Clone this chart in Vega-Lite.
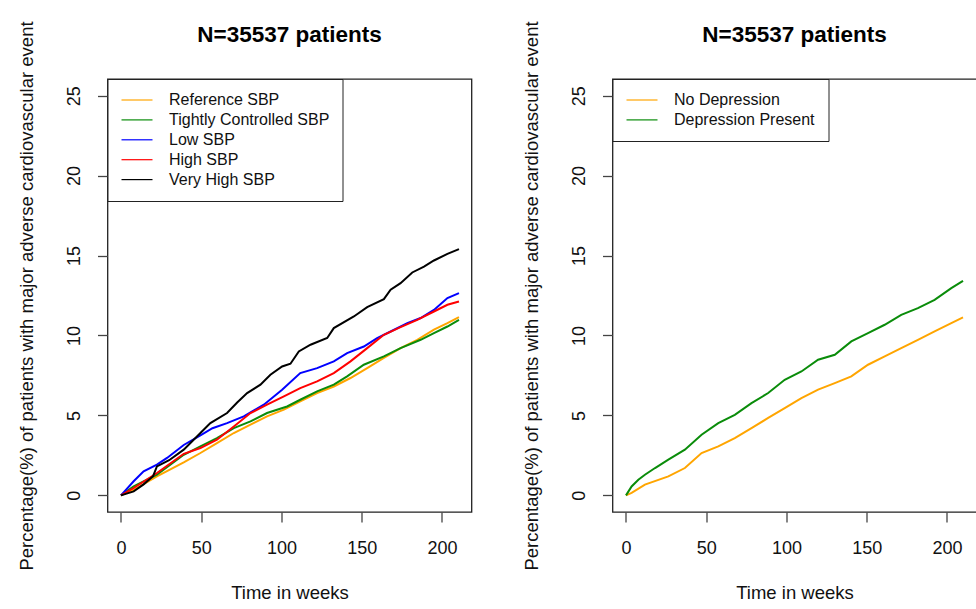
{
  "$schema": "https://vega.github.io/schema/vega-lite/v6.json",
  "background": "white",
  "padding": {"left": 16.5, "top": 20, "right": 0, "bottom": 0},
  "bounds": "flush",
  "spacing": 141,
  "config": {
    "font": "Liberation Sans",
    "view": {"stroke": "#222", "strokeWidth": 1.3},
    "axis": {"grid": false, "domain": false, "tickColor": "#444", "tickSize": 10, "tickWidth": 1.3, "labelFont": "Liberation Sans", "labelFontSize": 18, "labelColor": "#111", "titleFont": "Liberation Sans", "titleFontSize": 18.5, "titleFontWeight": "normal", "titleColor": "#111"},
    "axisX": {"labelPadding": 17, "titlePadding": 26, "labelAngle": 0},
    "title": {"fontSize": 22.5, "font": "Liberation Sans", "fontWeight": "bold", "baseline": "alphabetic", "offset": -26, "anchor": "middle", "frame": "group", "color": "#000"},
    "legend": {"title": null, "padding": 13, "strokeColor": "#222", "fillColor": "white", "offset": 0, "labelFontSize": 16, "labelFont": "Liberation Sans", "labelColor": "#111", "labelLimit": 400, "symbolType": "M-3.1,0H3.1", "symbolSize": 100, "symbolStrokeWidth": 1.2, "symbolOffset": 8.5, "labelOffset": 24, "rowPadding": 3.9, "cornerRadius": 0}
  },
  "resolve": {"scale": {"color": "independent"}},
  "datasets": {
    "sbp": [
      {"group": "Reference SBP", "week": 0, "pct": 0},
      {"group": "Reference SBP", "week": 7.9, "pct": 0.35},
      {"group": "Reference SBP", "week": 22.4, "pct": 1.19},
      {"group": "Reference SBP", "week": 39.1, "pct": 2.06},
      {"group": "Reference SBP", "week": 49.5, "pct": 2.65},
      {"group": "Reference SBP", "week": 59.8, "pct": 3.27},
      {"group": "Reference SBP", "week": 70.3, "pct": 3.9},
      {"group": "Reference SBP", "week": 80.7, "pct": 4.42},
      {"group": "Reference SBP", "week": 91, "pct": 4.94},
      {"group": "Reference SBP", "week": 101.5, "pct": 5.36},
      {"group": "Reference SBP", "week": 111.7, "pct": 5.88},
      {"group": "Reference SBP", "week": 122.2, "pct": 6.4},
      {"group": "Reference SBP", "week": 132.6, "pct": 6.81},
      {"group": "Reference SBP", "week": 143, "pct": 7.34},
      {"group": "Reference SBP", "week": 153.4, "pct": 7.96},
      {"group": "Reference SBP", "week": 163.8, "pct": 8.6},
      {"group": "Reference SBP", "week": 174.2, "pct": 9.21},
      {"group": "Reference SBP", "week": 184.6, "pct": 9.73},
      {"group": "Reference SBP", "week": 195, "pct": 10.36},
      {"group": "Reference SBP", "week": 203.4, "pct": 10.77},
      {"group": "Reference SBP", "week": 210.6, "pct": 11.15},
      {"group": "Tightly Controlled SBP", "week": 0, "pct": 0},
      {"group": "Tightly Controlled SBP", "week": 7.9, "pct": 0.56},
      {"group": "Tightly Controlled SBP", "week": 22.4, "pct": 1.29},
      {"group": "Tightly Controlled SBP", "week": 39.1, "pct": 2.54},
      {"group": "Tightly Controlled SBP", "week": 49.5, "pct": 3.06},
      {"group": "Tightly Controlled SBP", "week": 59.8, "pct": 3.58},
      {"group": "Tightly Controlled SBP", "week": 70.3, "pct": 4.21},
      {"group": "Tightly Controlled SBP", "week": 80.7, "pct": 4.63},
      {"group": "Tightly Controlled SBP", "week": 91, "pct": 5.15},
      {"group": "Tightly Controlled SBP", "week": 103.5, "pct": 5.56},
      {"group": "Tightly Controlled SBP", "week": 111.7, "pct": 5.98},
      {"group": "Tightly Controlled SBP", "week": 122.2, "pct": 6.5},
      {"group": "Tightly Controlled SBP", "week": 132.6, "pct": 6.92},
      {"group": "Tightly Controlled SBP", "week": 140.9, "pct": 7.44},
      {"group": "Tightly Controlled SBP", "week": 151.3, "pct": 8.17},
      {"group": "Tightly Controlled SBP", "week": 163.8, "pct": 8.69},
      {"group": "Tightly Controlled SBP", "week": 174.2, "pct": 9.21},
      {"group": "Tightly Controlled SBP", "week": 186.7, "pct": 9.73},
      {"group": "Tightly Controlled SBP", "week": 195, "pct": 10.15},
      {"group": "Tightly Controlled SBP", "week": 203.4, "pct": 10.56},
      {"group": "Tightly Controlled SBP", "week": 210.6, "pct": 10.98},
      {"group": "Low SBP", "week": 0, "pct": 0},
      {"group": "Low SBP", "week": 7.9, "pct": 0.88},
      {"group": "Low SBP", "week": 14.1, "pct": 1.5},
      {"group": "Low SBP", "week": 22.4, "pct": 1.92},
      {"group": "Low SBP", "week": 28.7, "pct": 2.34},
      {"group": "Low SBP", "week": 39.1, "pct": 3.15},
      {"group": "Low SBP", "week": 49.5, "pct": 3.75},
      {"group": "Low SBP", "week": 57, "pct": 4.2},
      {"group": "Low SBP", "week": 66.1, "pct": 4.52},
      {"group": "Low SBP", "week": 76.5, "pct": 4.94},
      {"group": "Low SBP", "week": 89, "pct": 5.67},
      {"group": "Low SBP", "week": 100.4, "pct": 6.6},
      {"group": "Low SBP", "week": 111.7, "pct": 7.65},
      {"group": "Low SBP", "week": 122.2, "pct": 7.96},
      {"group": "Low SBP", "week": 132.6, "pct": 8.38},
      {"group": "Low SBP", "week": 140.9, "pct": 8.9},
      {"group": "Low SBP", "week": 151.3, "pct": 9.31},
      {"group": "Low SBP", "week": 159.6, "pct": 9.84},
      {"group": "Low SBP", "week": 168, "pct": 10.25},
      {"group": "Low SBP", "week": 178.4, "pct": 10.77},
      {"group": "Low SBP", "week": 186.7, "pct": 11.09},
      {"group": "Low SBP", "week": 195, "pct": 11.6},
      {"group": "Low SBP", "week": 203.4, "pct": 12.34},
      {"group": "Low SBP", "week": 210.6, "pct": 12.65},
      {"group": "High SBP", "week": 0, "pct": 0},
      {"group": "High SBP", "week": 7.9, "pct": 0.46},
      {"group": "High SBP", "week": 22.4, "pct": 1.4},
      {"group": "High SBP", "week": 39.1, "pct": 2.6},
      {"group": "High SBP", "week": 49.5, "pct": 2.96},
      {"group": "High SBP", "week": 59.8, "pct": 3.48},
      {"group": "High SBP", "week": 70.3, "pct": 4.31},
      {"group": "High SBP", "week": 80.7, "pct": 5.15},
      {"group": "High SBP", "week": 91, "pct": 5.67},
      {"group": "High SBP", "week": 101.5, "pct": 6.19},
      {"group": "High SBP", "week": 111.7, "pct": 6.71},
      {"group": "High SBP", "week": 122.2, "pct": 7.13},
      {"group": "High SBP", "week": 132.6, "pct": 7.65},
      {"group": "High SBP", "week": 143, "pct": 8.38},
      {"group": "High SBP", "week": 153.4, "pct": 9.21},
      {"group": "High SBP", "week": 163.8, "pct": 10.04},
      {"group": "High SBP", "week": 174.2, "pct": 10.52},
      {"group": "High SBP", "week": 184.6, "pct": 10.98},
      {"group": "High SBP", "week": 195, "pct": 11.5},
      {"group": "High SBP", "week": 203.4, "pct": 11.92},
      {"group": "High SBP", "week": 210.6, "pct": 12.13},
      {"group": "Very High SBP", "week": 0, "pct": 0},
      {"group": "Very High SBP", "week": 7.9, "pct": 0.25},
      {"group": "Very High SBP", "week": 14.1, "pct": 0.69},
      {"group": "Very High SBP", "week": 20, "pct": 1.2},
      {"group": "Very High SBP", "week": 22.4, "pct": 1.81},
      {"group": "Very High SBP", "week": 30, "pct": 2.2},
      {"group": "Very High SBP", "week": 39.1, "pct": 2.86},
      {"group": "Very High SBP", "week": 49.5, "pct": 3.9},
      {"group": "Very High SBP", "week": 55.7, "pct": 4.52},
      {"group": "Very High SBP", "week": 66.1, "pct": 5.15},
      {"group": "Very High SBP", "week": 72.4, "pct": 5.81},
      {"group": "Very High SBP", "week": 78.6, "pct": 6.4},
      {"group": "Very High SBP", "week": 86.9, "pct": 6.92},
      {"group": "Very High SBP", "week": 93.1, "pct": 7.54},
      {"group": "Very High SBP", "week": 100.4, "pct": 8.06},
      {"group": "Very High SBP", "week": 105.6, "pct": 8.23},
      {"group": "Very High SBP", "week": 110.8, "pct": 9.0},
      {"group": "Very High SBP", "week": 118.1, "pct": 9.42},
      {"group": "Very High SBP", "week": 128.5, "pct": 9.84},
      {"group": "Very High SBP", "week": 132.6, "pct": 10.46},
      {"group": "Very High SBP", "week": 145.1, "pct": 11.19},
      {"group": "Very High SBP", "week": 153.4, "pct": 11.77},
      {"group": "Very High SBP", "week": 163.8, "pct": 12.27},
      {"group": "Very High SBP", "week": 168, "pct": 12.86},
      {"group": "Very High SBP", "week": 174.2, "pct": 13.27},
      {"group": "Very High SBP", "week": 181.5, "pct": 13.94},
      {"group": "Very High SBP", "week": 188.8, "pct": 14.31},
      {"group": "Very High SBP", "week": 195, "pct": 14.69},
      {"group": "Very High SBP", "week": 203.4, "pct": 15.1},
      {"group": "Very High SBP", "week": 210.6, "pct": 15.4}
    ],
    "dep": [
      {"group": "No Depression", "week": 0, "pct": 0},
      {"group": "No Depression", "week": 3.5, "pct": 0.15},
      {"group": "No Depression", "week": 11.8, "pct": 0.67},
      {"group": "No Depression", "week": 26.4, "pct": 1.19},
      {"group": "No Depression", "week": 36.7, "pct": 1.71},
      {"group": "No Depression", "week": 47.1, "pct": 2.65},
      {"group": "No Depression", "week": 57.5, "pct": 3.06},
      {"group": "No Depression", "week": 67.8, "pct": 3.58},
      {"group": "No Depression", "week": 78.2, "pct": 4.21},
      {"group": "No Depression", "week": 88.6, "pct": 4.84},
      {"group": "No Depression", "week": 98.9, "pct": 5.46},
      {"group": "No Depression", "week": 109.3, "pct": 6.08},
      {"group": "No Depression", "week": 119.7, "pct": 6.61},
      {"group": "No Depression", "week": 130.1, "pct": 7.02},
      {"group": "No Depression", "week": 140.4, "pct": 7.44},
      {"group": "No Depression", "week": 150.8, "pct": 8.17},
      {"group": "No Depression", "week": 161.2, "pct": 8.69},
      {"group": "No Depression", "week": 171.5, "pct": 9.21},
      {"group": "No Depression", "week": 181.9, "pct": 9.73},
      {"group": "No Depression", "week": 192.3, "pct": 10.25},
      {"group": "No Depression", "week": 202.7, "pct": 10.77},
      {"group": "No Depression", "week": 210, "pct": 11.13},
      {"group": "Depression Present", "week": 0, "pct": 0},
      {"group": "Depression Present", "week": 3.5, "pct": 0.56},
      {"group": "Depression Present", "week": 7.7, "pct": 0.98},
      {"group": "Depression Present", "week": 11.8, "pct": 1.29},
      {"group": "Depression Present", "week": 18.1, "pct": 1.71},
      {"group": "Depression Present", "week": 26.4, "pct": 2.23},
      {"group": "Depression Present", "week": 36.7, "pct": 2.86},
      {"group": "Depression Present", "week": 47.1, "pct": 3.79},
      {"group": "Depression Present", "week": 57.5, "pct": 4.52},
      {"group": "Depression Present", "week": 67.8, "pct": 5.04},
      {"group": "Depression Present", "week": 78.2, "pct": 5.77},
      {"group": "Depression Present", "week": 88.6, "pct": 6.4},
      {"group": "Depression Present", "week": 98.9, "pct": 7.23},
      {"group": "Depression Present", "week": 109.3, "pct": 7.75},
      {"group": "Depression Present", "week": 119.7, "pct": 8.48},
      {"group": "Depression Present", "week": 130.1, "pct": 8.79},
      {"group": "Depression Present", "week": 140.4, "pct": 9.63},
      {"group": "Depression Present", "week": 150.8, "pct": 10.15},
      {"group": "Depression Present", "week": 161.2, "pct": 10.67},
      {"group": "Depression Present", "week": 171.5, "pct": 11.29},
      {"group": "Depression Present", "week": 181.9, "pct": 11.71},
      {"group": "Depression Present", "week": 192.3, "pct": 12.23},
      {"group": "Depression Present", "week": 202.7, "pct": 12.96},
      {"group": "Depression Present", "week": 210, "pct": 13.42}
    ]
  },
  "hconcat": [
    {
      "title": "N=35537 patients",
      "width": 364,
      "height": 433,
      "data": {"name": "sbp"},
      "mark": {"type": "line", "strokeWidth": 2},
      "encoding": {
        "x": {"field": "week", "type": "quantitative", "scale": {"domain": [-8.4, 218.4], "nice": false, "zero": false}, "axis": {"values": [0, 50, 100, 150, 200], "title": "Time in weeks"}},
        "y": {"field": "pct", "type": "quantitative", "scale": {"domain": [-1.04, 26.04], "nice": false, "zero": false}, "axis": {"values": [0, 5, 10, 15, 20, 25], "title": "Percentage(%) of patients with major adverse cardiovascular event", "labelAngle": 270, "labelAlign": "center", "labelBaseline": "top", "labelPadding": 32, "titlePadding": 29}},
        "color": {"field": "group", "type": "nominal", "sort": ["Reference SBP", "Tightly Controlled SBP", "Low SBP", "High SBP", "Very High SBP"], "scale": {"domain": ["Reference SBP", "Tightly Controlled SBP", "Low SBP", "High SBP", "Very High SBP"], "range": ["#FFA500", "#0A8C0A", "#0000FF", "#FF0000", "#000000"]}, "legend": {"orient": "top-left"}}
      }
    },
    {
      "title": "N=35537 patients",
      "width": 364,
      "height": 433,
      "data": {"name": "dep"},
      "mark": {"type": "line", "strokeWidth": 2},
      "encoding": {
        "x": {"field": "week", "type": "quantitative", "scale": {"domain": [-8.4, 218.4], "nice": false, "zero": false}, "axis": {"values": [0, 50, 100, 150, 200], "title": "Time in weeks"}},
        "y": {"field": "pct", "type": "quantitative", "scale": {"domain": [-1.04, 26.04], "nice": false, "zero": false}, "axis": {"values": [0, 5, 10, 15, 20, 25], "title": "Percentage(%) of patients with major adverse cardiovascular event", "labelAngle": 270, "labelAlign": "center", "labelBaseline": "top", "labelPadding": 32, "titlePadding": 29}},
        "color": {"field": "group", "type": "nominal", "sort": ["No Depression", "Depression Present"], "scale": {"domain": ["No Depression", "Depression Present"], "range": ["#FFA500", "#0A8C0A"]}, "legend": {"orient": "top-left"}}
      }
    }
  ]
}
